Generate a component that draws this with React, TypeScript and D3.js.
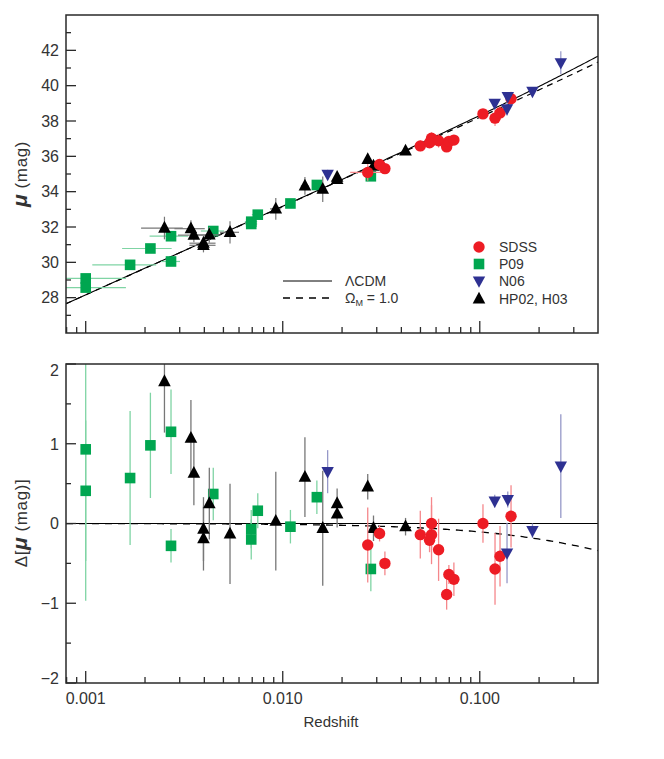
import * as d3 from "d3";

// cosmology used for the model curves
const H0 = 70;
const OMEGA_M = 0.3;
const OMEGA_L = 0.7;
const C_KMS = 299792.458;

// SDSS (red circles)
const sdssZ = [0.0270, 0.0310, 0.0330, 0.0499, 0.0569, 0.0569, 0.0556, 0.0618, 0.0679, 0.0697, 0.0739, 0.1038, 0.1195, 0.1267, 0.1441];
const sdssDmu = [-0.27, -0.125, -0.50, -0.14, 0.0, -0.14, -0.21, -0.33, -0.89, -0.64, -0.70, 0.0, -0.57, -0.41, 0.09];
const sdssErr = [0.47, 0.10, 0.15, 0.30, 0.33, 0.37, 0.15, 0.39, 0.19, 0.12, 0.21, 0.24, 0.45, 0.38, 0.39];
const sdssZErr = [0.005, 0, 0, 0, 0, 0, 0, 0, 0, 0, 0, 0, 0, 0, 0];

// P09 (green squares)
const p09Z = [0.0010, 0.0010, 0.00168, 0.00213, 0.00271, 0.00271, 0.00444, 0.00692, 0.00692, 0.00747, 0.01094, 0.0149, 0.0280];
const p09Dmu = [0.93, 0.41, 0.57, 0.98, 1.15, -0.28, 0.37, -0.07, -0.20, 0.16, -0.04, 0.33, -0.57];
const p09Err = [1.90, 0.88, 0.84, 0.66, 0.53, 0.21, 0.33, 0.24, 0.25, 0.22, 0.21, 0.21, 0.28];
const p09ZErr = [0.0006, 0.0006, 0.0006, 0.0006, 0.0006, 0.0003, 0.0006, 0.0005, 0.0005, 0.0005, 0.0006, 0.0006, 0.0006];

// N06 (blue down triangles)
const n06Z = [0.0169, 0.1191, 0.1387, 0.1375, 0.1851, 0.2578];
const n06Dmu = [0.65, 0.28, 0.30, -0.37, -0.09, 0.72];
const n06Err = [0.27, 0.08, 0.10, 0.38, 0.09, 0.65];

// HP02, H03 (black triangles)
const hpZ = [0.00251, 0.00342, 0.00354, 0.00396, 0.00396, 0.00424, 0.0054, 0.00922, 0.01296, 0.01596, 0.01888, 0.01888, 0.0270, 0.02888, 0.0420];
const hpDmu = [1.78, 1.07, 0.63, -0.07, -0.19, 0.25, -0.13, 0.03, 0.58, -0.06, 0.25, 0.12, 0.46, -0.06, -0.04];
const hpErr = [0.64, 0.48, 0.40, 0.40, 0.40, 0.45, 0.63, 0.62, 0.50, 0.72, 0.19, 0.17, 0.16, 0.16, 0.11];
const hpZErr = [0.0006, 0.0006, 0.0006, 0.0006, 0.0006, 0.0006, 0.0006, 0.0006, 0.0006, 0.0006, 0.0006, 0.0006, 0.0006, 0.0006, 0.0006];

const muTicks = [28, 30, 32, 34, 36, 38, 40, 42];
const dmuTicks = [2, 1, 0, -1, -2];
const zLabels = ["0.001", "0.010", "0.100"];

function muLCDM(z: number) {
  const n = 200;
  const h = z / n;
  let s = 0;
  for (let i = 0; i <= n; i++) {
    const zz = i * h;
    const f = 1 / Math.sqrt(OMEGA_M * Math.pow(1 + zz, 3) + OMEGA_L);
    s += (i === 0 || i === n ? 1 : i % 2 ? 4 : 2) * f;
  }
  const dl = (1 + z) * (C_KMS / H0) * (s * h / 3);
  return 5 * Math.log10(dl) + 25;
}
function muEdS(z: number) {
  const dl = (2 * C_KMS / H0) * (1 + z - Math.sqrt(1 + z));
  return 5 * Math.log10(dl) + 25;
}

const X0 = 66, X1 = 598;
const T0 = 15, T1 = 333;
const B0 = 364, B1 = 683;
const INK = "#2a2a2a";

const x = d3.scaleLog().domain([Math.pow(10, -3.1), Math.pow(10, -0.4)]).range([X0, X1]);
const yTop = d3.scaleLinear().domain([26, 44]).range([T1, T0]);
const yBot = d3.scaleLinear().domain([-2, 2]).range([B1, B0]);

const gridZ = d3.range(0, 241).map((i) => Math.pow(10, -3.1 + (i * 2.7) / 240));

type Pt = { z: number; dmu: number; err: number; zerr: number };
const mk = (zs: number[], d: number[], e: number[], ze?: number[]): Pt[] =>
  zs.map((z, i) => ({ z, dmu: d[i], err: e[i], zerr: ze ? ze[i] : 0 }));

const sets = [
  { key: "p09", pts: mk(p09Z, p09Dmu, p09Err, p09ZErr), fill: "#00a650", bar: "#7fd4a4", topV: false },
  { key: "hp", pts: mk(hpZ, hpDmu, hpErr, hpZErr), fill: "#000000", bar: "#777777", topV: true },
  { key: "sdss", pts: mk(sdssZ, sdssDmu, sdssErr, sdssZErr), fill: "#ed1c24", bar: "#f5878b", topV: true },
  { key: "n06", pts: mk(n06Z, n06Dmu, n06Err), fill: "#2e3192", bar: "#9698c8", topV: true },
];

function Marker({ kind, cx, cy, fill }: { kind: string; cx: number; cy: number; fill: string }) {
  if (kind === "sdss") return <circle cx={cx} cy={cy} r={5.7} fill={fill} />;
  if (kind === "p09") return <rect x={cx - 5.3} y={cy - 5.3} width={10.6} height={10.6} fill={fill} />;
  if (kind === "hp")
    return <polygon points={`${cx},${cy - 7.2} ${cx + 6.3},${cy + 4.6} ${cx - 6.3},${cy + 4.6}`} fill={fill} />;
  return <polygon points={`${cx},${cy + 6.8} ${cx + 6.2},${cy - 4.6} ${cx - 6.2},${cy - 4.6}`} fill={fill} />;
}

function XTicks({ yb }: { yb: number }) {
  const ticks: { v: number; major: boolean }[] = [];
  for (let e = -4; e <= -1; e++) {
    for (let m = 1; m <= 9; m++) {
      const v = m * Math.pow(10, e);
      if (x(v) >= X0 + 0.5 && x(v) <= X1 - 0.5) ticks.push({ v, major: m === 1 });
    }
  }
  return (
    <g stroke={INK} strokeWidth={1.3}>
      {ticks.map((t, i) => (
        <line key={i} x1={x(t.v)} x2={x(t.v)} y1={yb} y2={yb - (t.major ? 12 : 6)} />
      ))}
    </g>
  );
}

export default function App() {
  const fs = "'Liberation Sans', Arial, sans-serif";
  const lcdmTop = d3.line<number>().x((z) => x(z)).y((z) => yTop(muLCDM(z)));
  const edsTop = d3.line<number>().x((z) => x(z)).y((z) => yTop(muEdS(z)));
  const edsBot = d3.line<number>().x((z) => x(z)).y((z) => yBot(muEdS(z) - muLCDM(z)));

  const topMinor = d3.range(27, 44, 2);
  const botMinor = [1.5, 0.5, -0.5, -1.5];

  return (
    <svg width={664} height={759} style={{ position: "absolute", left: 0, top: 0, background: "#fff" }} fontFamily={fs}>
      <defs>
        <clipPath id="clipTop"><rect x={X0} y={T0} width={X1 - X0} height={T1 - T0} /></clipPath>
        <clipPath id="clipBot"><rect x={X0} y={B0} width={X1 - X0} height={B1 - B0} /></clipPath>
      </defs>

      {/* ---------- top panel ---------- */}
      <g clipPath="url(#clipTop)">
        <path d={edsTop(gridZ) || ""} fill="none" stroke="#000" strokeWidth={1.2} strokeDasharray="6,5" />
        <path d={lcdmTop(gridZ) || ""} fill="none" stroke="#000" strokeWidth={1.1} />
        {sets.map((s) => (
          <g key={s.key}>
            {s.pts.map((p, i) => {
              const mu = muLCDM(p.z) + p.dmu;
              return (
                <g key={i} stroke={s.bar} strokeWidth={1.2}>
                  {p.zerr > 0 && <line x1={x(Math.max(p.z - p.zerr, 1e-5))} x2={x(p.z + p.zerr)} y1={yTop(mu)} y2={yTop(mu)} />}
                  {s.topV && <line x1={x(p.z)} x2={x(p.z)} y1={yTop(mu - p.err)} y2={yTop(mu + p.err)} />}
                </g>
              );
            })}
            {s.pts.map((p, i) => (
              <Marker key={i} kind={s.key} cx={x(p.z)} cy={yTop(muLCDM(p.z) + p.dmu)} fill={s.fill} />
            ))}
          </g>
        ))}
      </g>
      <rect x={X0} y={T0} width={X1 - X0} height={T1 - T0} fill="none" stroke={INK} strokeWidth={1.5} />
      <XTicks yb={T1} />
      <g stroke={INK} strokeWidth={1.3}>
        {muTicks.map((v) => <line key={v} x1={X0} x2={X0 + 10} y1={yTop(v)} y2={yTop(v)} />)}
        {topMinor.map((v) => <line key={v} x1={X0} x2={X0 + 5} y1={yTop(v)} y2={yTop(v)} />)}
      </g>
      <g fill="#333" fontSize={16} textAnchor="end">
        {muTicks.map((v) => (
          <text key={v} x={59} y={yTop(v)} dy="0.36em">{v}</text>
        ))}
      </g>
      <text transform={`translate(27,174) rotate(-90)`} textAnchor="middle" fill="#333" fontSize={17} letterSpacing={0.6}>
        <tspan fontStyle="italic" fontWeight="bold" fontSize={21}>μ</tspan>
        <tspan> (mag)</tspan>
      </text>

      {/* legend: lines */}
      <line x1={283} x2={332} y1={281} y2={281} stroke="#000" strokeWidth={1} />
      <line x1={283} x2={332} y1={298} y2={298} stroke="#000" strokeWidth={1.3} strokeDasharray="7,6" />
      <g fill="#333" fontSize={14}>
        <text x={345} y={286}>ΛCDM</text>
        <text x={345} y={303}>
          Ω<tspan fontSize={9} dy={3}>M</tspan>
          <tspan dy={-3}> = 1.0</tspan>
        </text>
      </g>
      {/* legend: symbols */}
      {[
        { key: "sdss", label: "SDSS", fill: "#ed1c24", y: 247 },
        { key: "p09", label: "P09", fill: "#00a650", y: 264 },
        { key: "n06", label: "N06", fill: "#2e3192", y: 281 },
        { key: "hp", label: "HP02, H03", fill: "#000000", y: 299 },
      ].map((l) => (
        <g key={l.key}>
          <Marker kind={l.key} cx={479} cy={l.y} fill={l.fill} />
          <text x={499} y={l.y + 5} fill="#333" fontSize={14}>{l.label}</text>
        </g>
      ))}

      {/* ---------- bottom panel ---------- */}
      <g clipPath="url(#clipBot)">
        <line x1={X0} x2={X1} y1={yBot(0)} y2={yBot(0)} stroke="#000" strokeWidth={1.1} />
        <path d={edsBot(gridZ) || ""} fill="none" stroke="#000" strokeWidth={1.3} strokeDasharray="7,6" />
        {sets.map((s) => (
          <g key={s.key}>
            {s.pts.map((p, i) => (
              <line key={i} x1={x(p.z)} x2={x(p.z)} y1={yBot(p.dmu - p.err)} y2={yBot(p.dmu + p.err)} stroke={s.bar} strokeWidth={1.3} />
            ))}
            {s.pts.map((p, i) => (
              <Marker key={i} kind={s.key} cx={x(p.z)} cy={yBot(p.dmu)} fill={s.fill} />
            ))}
          </g>
        ))}
      </g>
      <rect x={X0} y={B0} width={X1 - X0} height={B1 - B0} fill="none" stroke={INK} strokeWidth={1.5} />
      <XTicks yb={B1} />
      <g stroke={INK} strokeWidth={1.3}>
        {dmuTicks.map((v) => <line key={v} x1={X0} x2={X0 + 10} y1={yBot(v)} y2={yBot(v)} />)}
        {botMinor.map((v) => <line key={v} x1={X0} x2={X0 + 5} y1={yBot(v)} y2={yBot(v)} />)}
      </g>
      <g fill="#333" fontSize={16} textAnchor="end">
        {dmuTicks.map((v) => (
          <text key={v} x={59} y={Math.min(Math.max(yBot(v), B0 + 6), B1 - 5)} dy="0.36em">
            {v < 0 ? `\u2212${-v}` : `${v}`}
          </text>
        ))}
      </g>
      <text transform={`translate(27,523) rotate(-90)`} textAnchor="middle" fill="#333" fontSize={17} letterSpacing={0.6}>
        <tspan>Δ[</tspan>
        <tspan fontStyle="italic" fontWeight="bold" fontSize={21}>μ</tspan>
        <tspan> (mag)]</tspan>
      </text>
      <g fill="#333" fontSize={16} textAnchor="middle">
        {zLabels.map((l) => (
          <text key={l} x={x(+l)} y={704}>{l}</text>
        ))}
        <text x={331} y={727} fontSize={15}>Redshift</text>
      </g>
    </svg>
  );
}
